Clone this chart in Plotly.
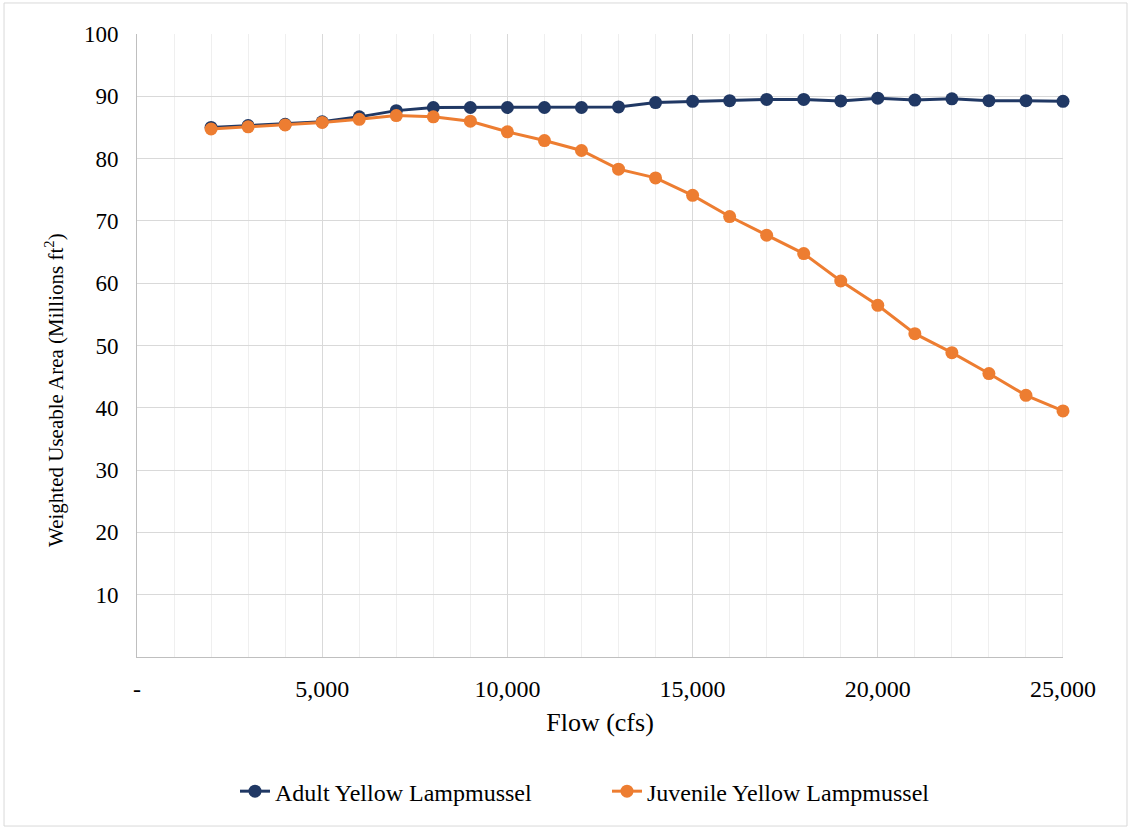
import plotly.graph_objects as go

# Flow values (cfs)
flow = [2000, 3000, 4000, 5000, 6000, 7000, 8000, 9000, 10000, 11000, 12000, 13000,
        14000, 15000, 16000, 17000, 18000, 19000, 20000, 21000, 22000, 23000, 24000, 25000]

# Weighted useable area (millions ft²)
adult = [85.0, 85.3, 85.5, 85.9, 86.7, 87.7, 88.2, 88.2, 88.2, 88.2, 88.2, 88.3,
         89.0, 89.2, 89.3, 89.5, 89.5, 89.25, 89.7, 89.4, 89.6, 89.3, 89.3, 89.2]
juvenile = [84.75, 85.1, 85.4, 85.8, 86.3, 86.9, 86.7, 86.0, 84.3, 82.9, 81.3, 78.3,
            76.9, 74.1, 70.7, 67.7, 64.75, 60.35, 56.45, 51.9, 48.85, 45.5, 42.0, 39.5]

x_tickvals = [0, 5000, 10000, 15000, 20000, 25000]
x_ticktext = ["-", "5,000", "10,000", "15,000", "20,000", "25,000"]
y_tickvals = [10, 20, 30, 40, 50, 60, 70, 80, 90, 100]

NAVY = "#203864"
ORANGE = "#ED7D31"
FONT = "Liberation Serif, Times New Roman, serif"
GRID = "#d9d9d9"

fig = go.Figure()
fig.add_trace(go.Scatter(x=flow, y=adult, mode="lines+markers",
                         name="Adult Yellow Lampmussel", cliponaxis=False,
                         line=dict(color=NAVY, width=3),
                         marker=dict(color=NAVY, size=13)))
fig.add_trace(go.Scatter(x=flow, y=juvenile, mode="lines+markers",
                         name="Juvenile Yellow Lampmussel", cliponaxis=False,
                         line=dict(color=ORANGE, width=3),
                         marker=dict(color=ORANGE, size=13)))

# outer chart border
fig.add_shape(type="rect", xref="paper", yref="paper",
              x0=-0.1436, x1=1.0691, y0=-0.2713, y1=1.0498,
              line=dict(color=GRID, width=1), layer="below")
# right edge of the plot area
fig.add_shape(type="line", xref="x", yref="paper", x0=25000, x1=25000, y0=0, y1=1,
              line=dict(color=GRID, width=1), layer="below")

# vertical axis title
fig.add_annotation(text="Weighted Useable Area (Millions ft<sup>2</sup>)",
                   xref="paper", yref="paper", x=-0.0886, y=0.4286,
                   xanchor="center", yanchor="middle", textangle=-90,
                   showarrow=False, font=dict(family=FONT, size=21, color="black"))

fig.update_layout(
    width=1133, height=828,
    margin=dict(l=137, r=70, t=34, b=171),
    paper_bgcolor="white", plot_bgcolor="white",
    font=dict(family=FONT, size=24, color="black"),
    showlegend=True,
    legend=dict(orientation="h", xref="container", yref="container",
                x=0.2074, xanchor="left", y=0.044, yanchor="middle",
                font=dict(family=FONT, size=24, color="black"),
                entrywidth=327, entrywidthmode="pixels",
                itemwidth=30, tracegroupgap=0),
    xaxis=dict(range=[0, 25000], tickvals=x_tickvals, ticktext=x_ticktext,
               tickfont=dict(family=FONT, size=24),
               showgrid=True, gridcolor=GRID, gridwidth=1,
               minor=dict(dtick=1000, tick0=0, showgrid=True,
                          gridcolor="#efefef", gridwidth=1),
               showline=True, linecolor="#bfbfbf", linewidth=1,
               ticks="outside", ticklen=10, tickcolor="rgba(0,0,0,0)",
               zeroline=False,
               title=dict(text="Flow (cfs)", standoff=12,
                          font=dict(family=FONT, size=26))),
    yaxis=dict(range=[0, 100], tickvals=y_tickvals,
               tickfont=dict(family=FONT, size=23),
               showgrid=True, gridcolor=GRID, gridwidth=1,
               showline=True, linecolor="#bfbfbf", linewidth=1,
               ticks="outside", ticklen=13, tickcolor="rgba(0,0,0,0)",
               zeroline=False),
)

fig.write_html("out.html")
